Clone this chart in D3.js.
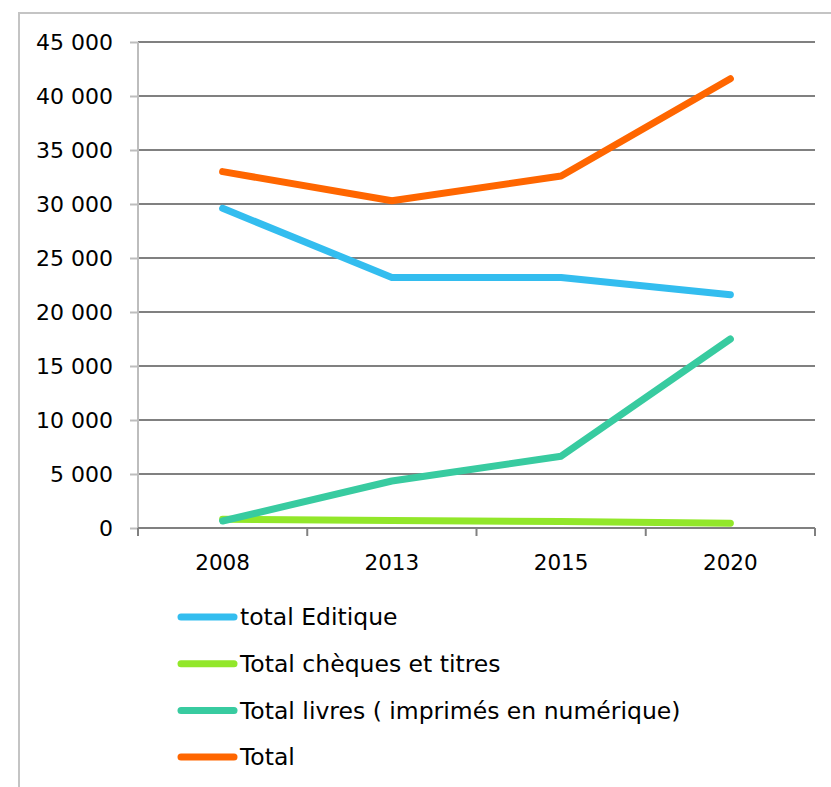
<!DOCTYPE html>
<html>
  <head>
    <meta charset="utf-8">
    <style>
      body { margin: 0; background-color: white; }
      text { font-family: "DejaVu Sans", sans-serif; fill: black; }
    </style>
    <script src="https://d3js.org/d3.v7.min.js"></script>
  </head>
  <body>
    <script>
    var width = 831;
    var height = 787;

    var years = ["2008", "2013", "2015", "2020"];
    var editique = [29600, 23200, 23200, 21600];
    var cheques = [800, 700, 600, 450];
    var livres = [650, 4350, 6650, 17500];
    var total = [33000, 30300, 32600, 41600];

    var seriesNames = ["total Editique", "Total chèques et titres",
                       "Total livres ( imprimés en numérique)", "Total"];
    var seriesColors = ["#33bdef", "#92e72a", "#38cba0", "#ff6600"];
    var seriesValues = [editique, cheques, livres, total];
    var yTicks = [0, 5000, 10000, 15000, 20000, 25000, 30000, 35000, 40000, 45000];

    var plotLeft = 138, plotRight = 815, plotTop = 42, plotBottom = 528;

    var svg = d3.select("body").append("svg")
      .attr("width", width)
      .attr("height", height)

    // outer chart frame (runs off the picture on right and bottom)
    svg.append("rect")
      .attr("x", 19).attr("y", 13)
      .attr("width", 840).attr("height", 800)
      .attr("fill", "none")
      .attr("stroke", "#c4c4c4")
      .attr("stroke-width", 2)

    let xScale = d3.scaleBand()
      .domain(years)
      .range([plotLeft, plotRight])
    let yScale = d3.scaleLinear()
      .domain([0, 45000])
      .range([plotBottom, plotTop])

    var fmt = function(d) { return d3.format(",")(d).replace(/,/g, " "); };

    // gridlines
    svg.append("g")
      .selectAll("line")
      .data(yTicks)
      .enter().append("line")
        .attr("x1", plotLeft).attr("x2", plotRight)
        .attr("y1", (d) => yScale(d)).attr("y2", (d) => yScale(d))
        .attr("stroke", "#808080")
        .attr("stroke-width", 2)

    // y axis
    var yAxis = svg.append("g")
      .attr("transform", "translate(" + plotLeft + ",0)")
      .call(d3.axisLeft(yScale).tickValues(yTicks).tickFormat(fmt).tickSize(8).tickPadding(17))
    yAxis.select(".domain")
      .attr("d", "M0," + plotTop + "V" + (plotBottom + 6))
      .attr("stroke", "#bdbdbd").attr("stroke-width", 2)
    yAxis.selectAll(".tick line").attr("stroke", "#bdbdbd").attr("stroke-width", 2)
    yAxis.selectAll(".tick text")
      .style("font-size", "22px")
      .attr("font-family", null)

    // x axis
    var xAxis = svg.append("g")
      .attr("transform", "translate(0," + plotBottom + ")")
    xAxis.append("line")
      .attr("x1", plotLeft).attr("x2", plotRight)
      .attr("stroke", "#808080").attr("stroke-width", 2)
    var bounds = years.map((d) => xScale(d)).concat([plotRight])
    xAxis.selectAll(".xt")
      .data(bounds)
      .enter().append("line")
        .attr("class", "xt")
        .attr("x1", (d) => d).attr("x2", (d) => d)
        .attr("y1", 0).attr("y2", 8)
        .attr("stroke", "#808080").attr("stroke-width", 2)
    xAxis.selectAll(".xl")
      .data(years)
      .enter().append("text")
        .attr("class", "xl")
        .attr("x", (d) => xScale(d) + xScale.bandwidth() / 2)
        .attr("y", 34)
        .attr("dy", "0.35em")
        .attr("text-anchor", "middle")
        .style("font-size", "21.5px")
        .text((d) => d)

    // series lines
    var line = d3.line()
      .x((d, i) => xScale(years[i]) + xScale.bandwidth() / 2)
      .y((d) => yScale(d))

    svg.append("g")
      .selectAll("path")
      .data(seriesValues)
      .enter().append("path")
        .attr("d", (d) => line(d))
        .attr("fill", "none")
        .attr("stroke", (d, i) => seriesColors[i])
        .attr("stroke-width", 7)
        .attr("stroke-linecap", "round")
        .attr("stroke-linejoin", "round")

    // legend
    var legend = svg.append("g")
      .selectAll("g")
      .data(seriesNames)
      .enter().append("g")
        .attr("transform", (d, i) => "translate(0," + (617 + i * 46.7) + ")")
    legend.append("line")
      .attr("x1", 181).attr("x2", 234)
      .attr("stroke", (d, i) => seriesColors[i])
      .attr("stroke-width", 7)
      .attr("stroke-linecap", "round")
    legend.append("text")
      .attr("x", 240)
      .attr("dy", "0.35em")
      .style("font-size", "23.5px")
      .text((d) => d)
    </script>
  </body>
</html>
